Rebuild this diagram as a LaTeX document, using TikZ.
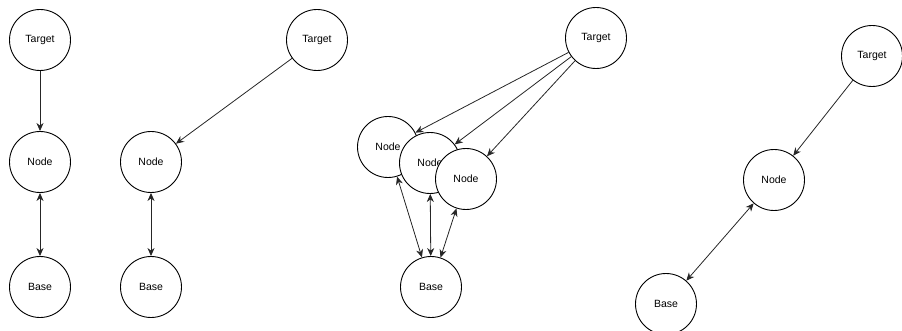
\documentclass[tikz,border=0pt]{standalone}
\usepackage{fontspec}
\setmainfont{Liberation Sans}
\usetikzlibrary{arrows.meta}
\begin{document}
\begin{tikzpicture}[x=1pt,y=-1pt,
  vtx/.style={circle,draw=black,line width=0.9pt,fill=white,minimum size=61pt,inner sep=0pt,font=\fontsize{10.5}{12}\selectfont},
  conn/.style={draw=black!85,line width=0.8pt,-{Stealth[length=8pt,width=7pt,inset=2.5pt]}},
  bconn/.style={draw=black!85,line width=0.8pt,{Stealth[length=8pt,width=7pt,inset=2.5pt]}-{Stealth[length=8pt,width=7pt,inset=2.5pt]}}]
\useasboundingbox (0,0) rectangle (902,331);
% panel 1
\node[vtx] (t1) at (40,40) {Target};
\node[vtx] (n1) at (40,162) {Node};
\node[vtx] (b1) at (40,287) {Base};
\draw[conn] (t1) -- (n1);
\draw[bconn] (n1) -- (b1);
% panel 2
\node[vtx] (t2) at (317,40) {Target};
\node[vtx] (n2) at (151,162) {Node};
\node[vtx] (b2) at (151,287) {Base};
\draw[conn] (t2) -- (n2);
\draw[bconn] (n2) -- (b2);
% panel 3
\node[vtx] (t3) at (596,38) {Target};
\node[vtx] (na) at (388,147) {Node};
\node[vtx] (nb) at (430,163) {Node};
\node[vtx] (nc) at (466,179) {Node};
\node[vtx] (b3) at (431,287) {Base};
\draw[conn] (t3) -- (na);
\draw[conn] (t3) -- (nb);
\draw[conn] (t3) -- (nc);
\draw[bconn] (na) -- (b3);
\draw[bconn] (nb) -- (b3);
\draw[bconn] (nc) -- (b3);
% panel 4
\node[vtx] (t4) at (872,56) {Target};
\node[vtx] (n4) at (774,180) {Node};
\node[vtx] (b4) at (666,304) {Base};
\draw[conn] (t4) -- (n4);
\draw[bconn] (n4) -- (b4);
\end{tikzpicture}
\end{document}
